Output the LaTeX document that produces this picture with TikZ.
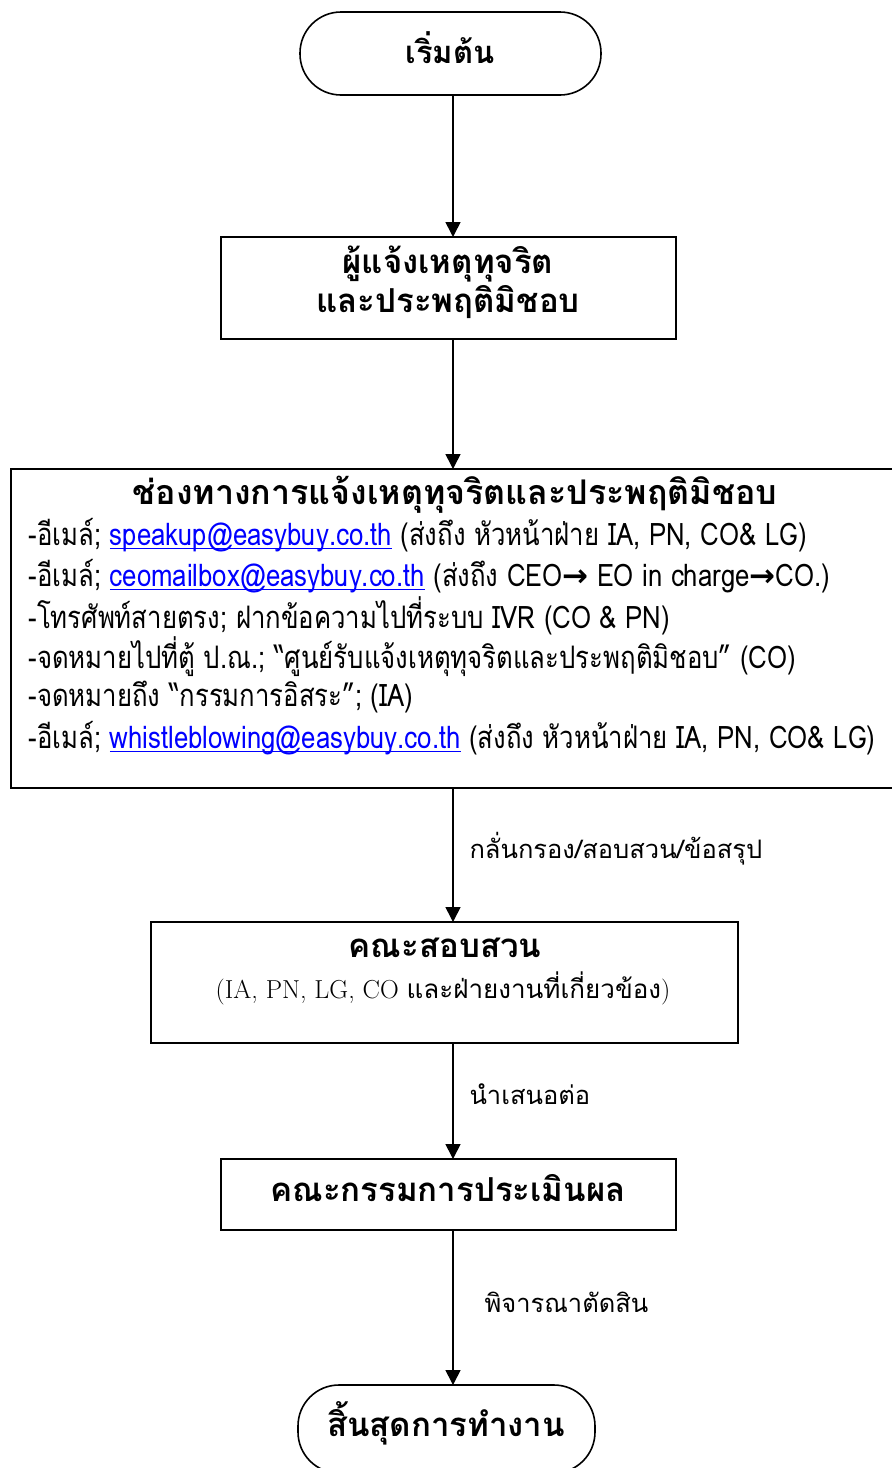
\documentclass[tikz,border=0pt]{standalone}
\usepackage{fontspec}
\usetikzlibrary{arrows.meta}
\newfontfamily\thai[Script=Thai]{Loma}
\newfontfamily\thain[Script=Thai,FakeStretch=0.83]{Loma}
\newfontfamily\dvs{DejaVu Sans}
\newcommand{\lnk}[1]{{\color{blue}\setbox0\hbox{#1}\rlap{\rule[-3.5pt]{\wd0}{1.3pt}}\box0}}
\newcommand{\rar}{{\dvs\bfseries →}}
\tikzset{
  box/.style={draw,line width=1.6pt,inner sep=0pt},
  term/.style={draw,line width=1.6pt,rounded corners=41pt},
  flow/.style={line width=1.6pt,-{Triangle[length=15pt,width=15pt]}},
  head/.style={font=\thai\bfseries\fontsize{33}{38}\selectfont},
  body/.style={font=\thain\fontsize{31}{36}\selectfont,anchor=west},
  lab/.style={font=\thai\fontsize{25.5}{30}\selectfont,anchor=west},
}
\begin{document}
\begin{tikzpicture}[x=1pt,y=-1pt]
\useasboundingbox (0,0) rectangle (892,1468);
\fill[white] (0,0) rectangle (892,1468);
% start
\draw[term] (300,12) rectangle (601,95);
\node[head,font=\thai\bfseries\fontsize{31}{36}\selectfont] (start) at (450,48) {เริ่มต้น};
\coordinate (startb) at (453,95);
% reporter
\draw[box] (221,237) rectangle (676,339);
\coordinate (rept) at (453,237);
\coordinate (repb) at (453,339);
\node[head] (rep1) at (448,264) {ผู้แจ้งเหตุทุจริต};
\node[head] (rep2) at (448,302) {และประพฤติมิชอบ};
% channels
\draw[box] (11,469) rectangle (900,788);
\coordinate (chat) at (453,469);
\coordinate (chab) at (453,788);
\node[head,font=\thai\bfseries\fontsize{34}{38}\selectfont] (chtitle) at (455,495) {ช่องทางการแจ้งเหตุทุจริตและประพฤติมิชอบ};
\node[body] (l1) at (25,535) {-อีเมล์; \lnk{speakup@easybuy.co.th} (ส่งถึง หัวหน้าฝ่าย IA, PN, CO\& LG)};
\node[body] (l2) at (25,576) {-อีเมล์; \lnk{ceomailbox@easybuy.co.th} (ส่งถึง CEO\rar{} EO in charge\rar CO.)};
\node[body] (l3) at (25,616) {-โทรศัพท์สายตรง; ฝากข้อความไปที่ระบบ IVR (CO \& PN)};
\node[body] (l4) at (25,657) {-จดหมายไปที่ตู้ ป.ณ.; “ศูนย์รับแจ้งเหตุทุจริตและประพฤติมิชอบ” (CO)};
\node[body] (l5) at (25,697) {-จดหมายถึง “กรรมการอิสระ”; (IA)};
\node[body] (l6) at (25,738) {-อีเมล์; \lnk{whistleblowing@easybuy.co.th} (ส่งถึง หัวหน้าฝ่าย IA, PN, CO\& LG)};
% investigation committee
\draw[box] (151,922) rectangle (738,1043);
\coordinate (invt) at (453,922);
\coordinate (invb) at (453,1043);
\node[head] (inv1) at (445,948) {คณะสอบสวน};
\node[font=\fontsize{26}{30}\selectfont] (inv2) at (443,988) {(IA, PN, LG, CO {\thai และฝ่ายงานที่เกี่ยวข้อง})};
% evaluation committee
\draw[box] (221,1159) rectangle (676,1230);
\coordinate (evat) at (453,1159);
\coordinate (evab) at (453,1230);
\node[head] (eva) at (448,1188) {คณะกรรมการประเมินผล};
% end
\draw[term] (298,1385) rectangle (595,1473);
\coordinate (endt) at (453,1385);
\node[head] (endn) at (446,1423) {สิ้นสุดการทำงาน};
% connectors
\draw[flow] (startb) -- (rept);
\draw[flow] (repb) -- (chat);
\draw[flow] (chab) -- (invt);
\draw[flow] (invb) -- (evat);
\draw[flow] (evab) -- (endt);
\node[lab] (lb1) at (466,849) {กลั่นกรอง/สอบสวน/ข้อสรุป};
\node[lab] (lb2) at (466,1094) {นำเสนอต่อ};
\node[lab] (lb3) at (481,1302) {พิจารณาตัดสิน};
\end{tikzpicture}
\end{document}
